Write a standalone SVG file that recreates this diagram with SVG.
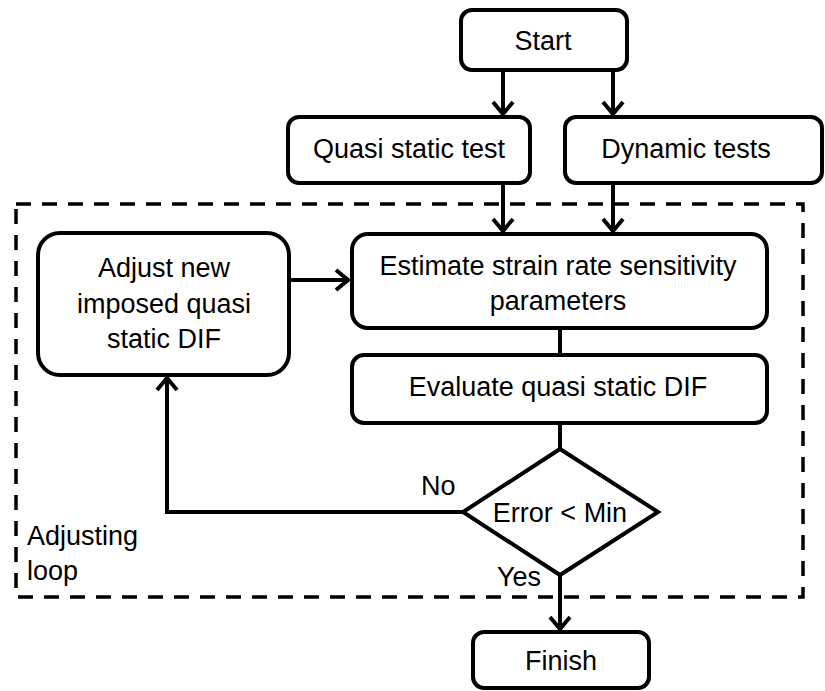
<svg xmlns="http://www.w3.org/2000/svg" width="825" height="691" viewBox="0 0 825 691">
<style>
.box{fill:#fff;stroke:#000;stroke-width:4}
.ln{fill:none;stroke:#000;stroke-width:4}
.t{font-family:"Liberation Sans",Arial,sans-serif;font-size:27px;fill:#000;text-anchor:middle}
.l{font-family:"Liberation Sans",Arial,sans-serif;font-size:27px;fill:#000}
</style>
<defs>
<marker id="ah" viewBox="-14 -12 16 24" refX="0" refY="0" markerWidth="16" markerHeight="24" markerUnits="userSpaceOnUse" orient="auto">
<path d="M-12,-10 L0,0 L-12,10" fill="none" stroke="#000" stroke-width="4"/>
</marker>
</defs>
<rect width="825" height="691" fill="#fff"/>
<g id="loop">
<rect x="16" y="204" width="787" height="393" fill="none" stroke="#000" stroke-width="3.5" stroke-dasharray="15 11"/>
<text class="l" x="27" y="545">Adjusting</text>
<text class="l" x="27" y="580">loop</text>
</g>
<g id="connectors">
<line class="ln" x1="503" y1="70" x2="503" y2="114" marker-end="url(#ah)"/>
<line class="ln" x1="613" y1="70" x2="613" y2="114" marker-end="url(#ah)"/>
<line class="ln" x1="503" y1="183" x2="503" y2="231" marker-end="url(#ah)"/>
<line class="ln" x1="613" y1="183" x2="613" y2="231" marker-end="url(#ah)"/>
<line class="ln" x1="289" y1="280" x2="348" y2="280" marker-end="url(#ah)"/>
<line class="ln" x1="560" y1="328" x2="560" y2="355"/>
<line class="ln" x1="560" y1="423" x2="560" y2="449"/>
<polyline class="ln" points="463,512 167,512 167,378" marker-end="url(#ah)"/>
<line class="ln" x1="560" y1="575" x2="560" y2="629" marker-end="url(#ah)"/>
<text class="l" x="421" y="495">No</text>
<text class="l" x="497" y="586">Yes</text>
</g>
<g id="start">
<rect class="box" x="461" y="10" width="166" height="60" rx="11"/>
<text class="t" x="543" y="50">Start</text>
</g>
<g id="quasi">
<rect class="box" x="288" y="117" width="242" height="66" rx="11"/>
<text class="t" x="409" y="158">Quasi static test</text>
</g>
<g id="dynamic">
<rect class="box" x="565" y="117" width="257" height="66" rx="11"/>
<text class="t" x="686" y="158">Dynamic tests</text>
</g>
<g id="adjust">
<rect class="box" x="38" y="233" width="251" height="142" rx="22"/>
<text class="t" x="164" y="277">Adjust new</text>
<text class="t" x="164" y="313">imposed quasi</text>
<text class="t" x="164" y="348">static DIF</text>
</g>
<g id="estimate">
<rect class="box" x="352" y="234" width="415" height="94" rx="16"/>
<text class="t" x="558" y="275">Estimate strain rate sensitivity</text>
<text class="t" x="558" y="310">parameters</text>
</g>
<g id="evaluate">
<rect class="box" x="352" y="355" width="415" height="68" rx="12"/>
<text class="t" x="558" y="396">Evaluate quasi static DIF</text>
</g>
<g id="decision">
<polygon class="box" points="560,449 658,512 560,575 463,512"/>
<text class="t" x="560" y="522">Error &lt; Min</text>
</g>
<g id="finish">
<rect class="box" x="473" y="632" width="176" height="56" rx="11"/>
<text class="t" x="561" y="670">Finish</text>
</g>
</svg>
